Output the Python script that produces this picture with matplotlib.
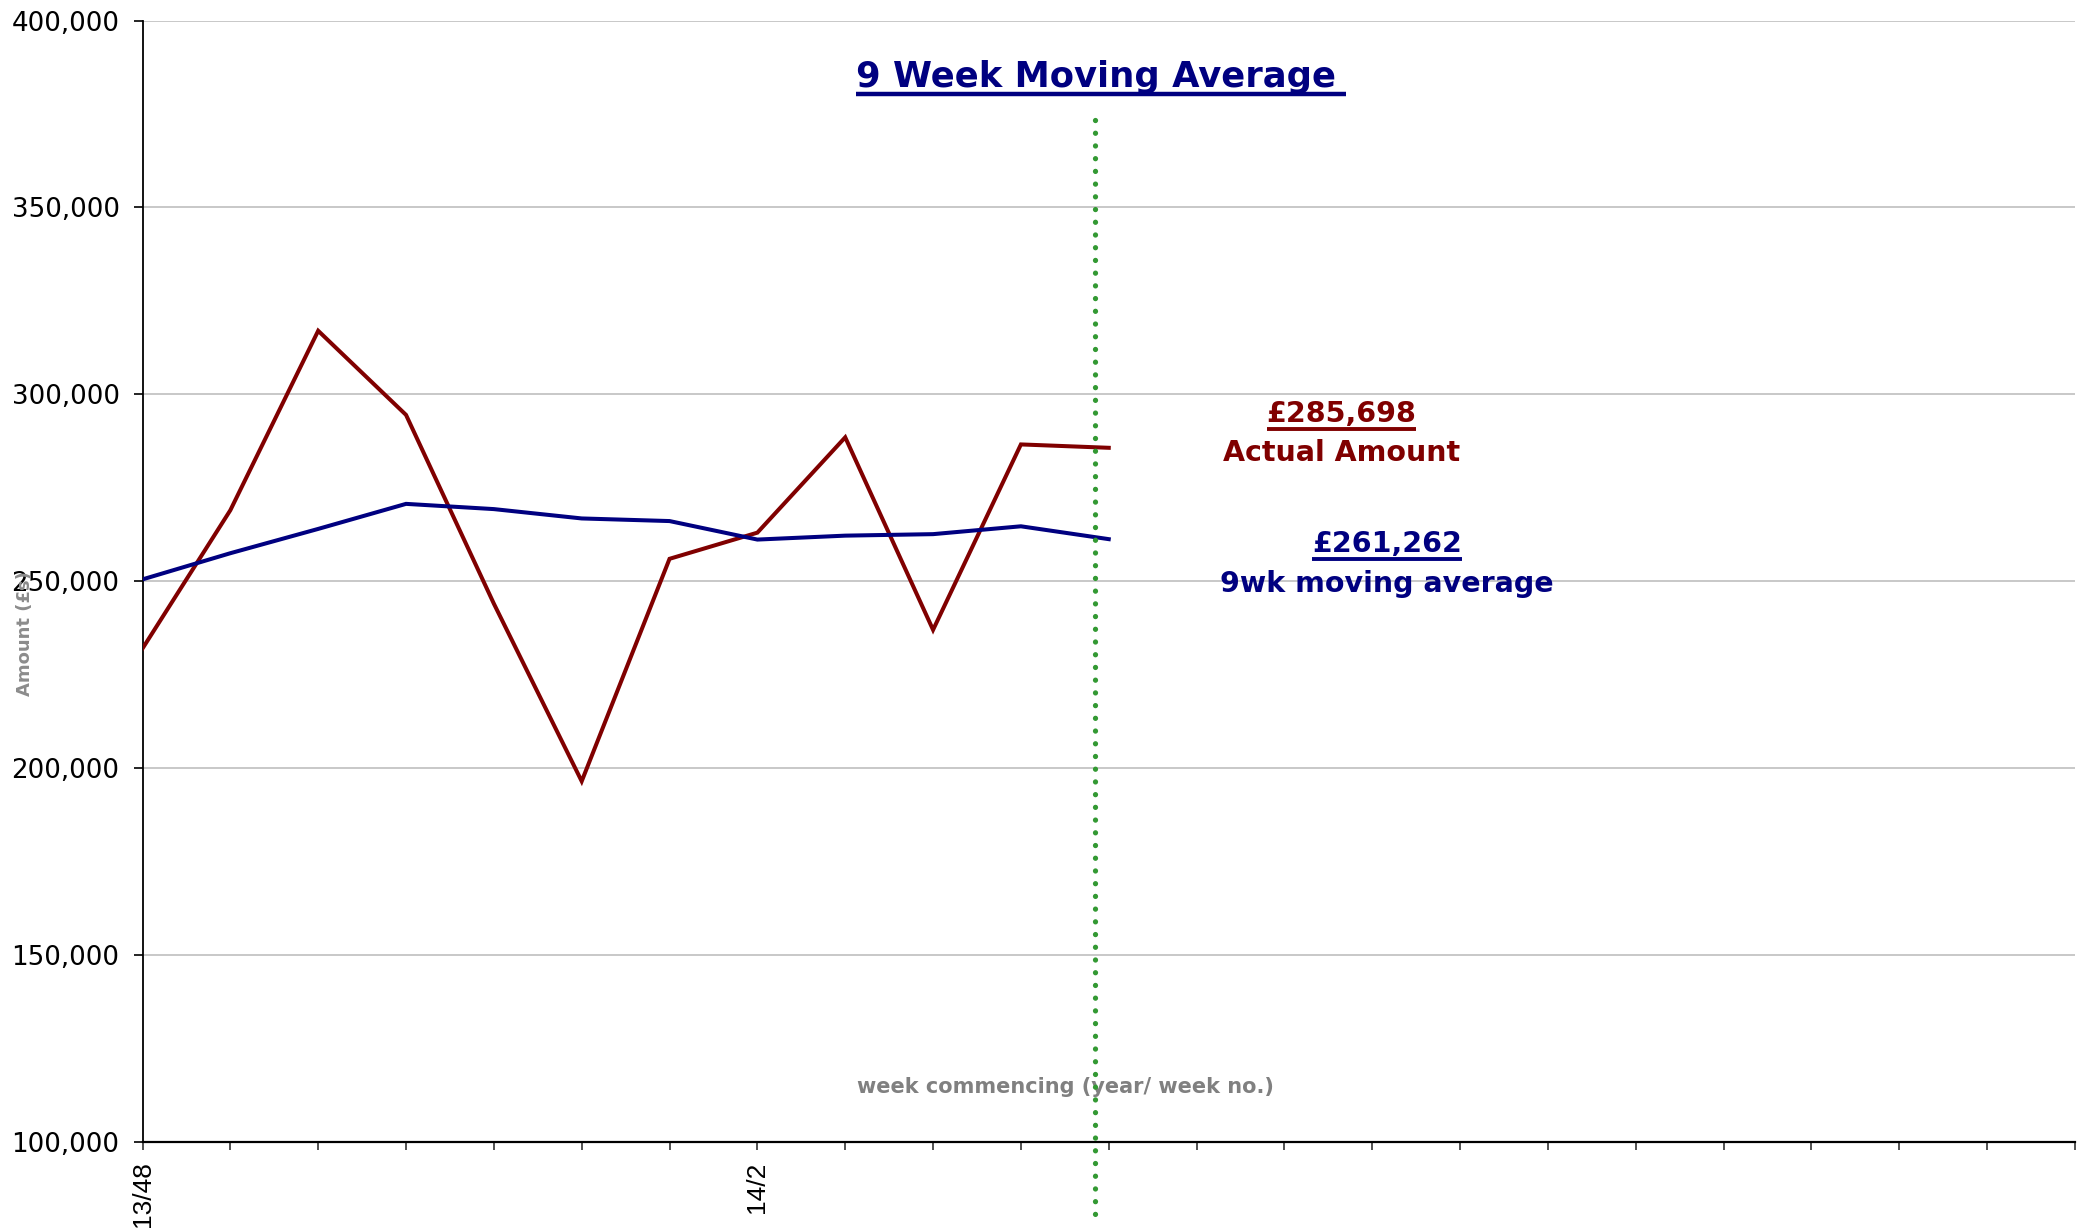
import matplotlib
matplotlib.use("Agg")
from matplotlib import pyplot as plt
from matplotlib.lines import Line2D
from matplotlib.ticker import FuncFormatter, FixedLocator

# weekly data (week commencing 13/48 onwards)
weeks = list(range(12))
actual = [232000, 269000, 317000, 294500, 244000, 196500,
          256000, 263000, 288500, 237000, 286600, 285698]
moving_avg = [250500, 257500, 264000, 270700, 269300, 266800,
              266100, 261150, 262200, 262600, 264700, 261262]

n_slots = 22                      # category slots on the axis
tick_pos = [0, 7]
tick_labels = ['13/48', '14/2']
marker_week = 10.84               # green "today" divider

red = '#800000'
navy = '#000080'
grey = '#8c8c8c'

fig = plt.figure(figsize=(20.78, 12.32), dpi=100)
ax = fig.add_axes([142.5 / 2078, 1 - 1142 / 1232, (2075 - 142.5) / 2078, (1142 - 20.5) / 1232])

ax.plot(weeks, actual, color=red, lw=2.9, solid_joinstyle='miter', zorder=3)
ax.plot(weeks, moving_avg, color=navy, lw=2.9, solid_joinstyle='miter', zorder=3)

ax.set_xlim(0, n_slots)
ax.set_ylim(100000, 400000)
ax.yaxis.set_major_locator(FixedLocator(range(100000, 400001, 50000)))
ax.yaxis.set_major_formatter(FuncFormatter(lambda v, p: f'{int(v):,}'))
ax.grid(axis='y', color='#c8c8c8', lw=1.4, zorder=0)
ax.set_axisbelow(True)

ax.set_xticks(range(n_slots + 1))
ax.set_xticklabels([tick_labels[tick_pos.index(i)] if i in tick_pos else '' for i in range(n_slots + 1)],
                   rotation=90, fontsize=19, family='Liberation Sans')
ax.tick_params(axis='x', length=6, width=1.2, pad=8, color='#333333')
ax.tick_params(axis='y', length=6.5, width=1.2, pad=10, labelsize=18.8)

for s in ['top', 'right']:
    ax.spines[s].set_visible(False)
ax.spines['left'].set_linewidth(1.3)
ax.spines['bottom'].set_linewidth(1.6)

# dotted divider, drawn top to bottom
ax.plot([marker_week, marker_week], [373400, 79400], color='#339933', lw=3.8,
        ls=(0, (0.01, 2.4)), dash_capstyle='round', clip_on=False, zorder=4)

# texts
title = ax.text(10.85, 382200, '9 Week Moving Average', color=navy, fontsize=25.5,
                fontweight='bold', ha='center', va='baseline')
v1 = ax.text(13.65, 292700, '£285,698', color=red, fontsize=20.5, fontweight='bold',
             ha='center', va='baseline')
ax.text(13.65, 282250, 'Actual Amount', color=red, fontsize=20.5, fontweight='bold',
        ha='center', va='baseline')
v2 = ax.text(14.17, 257900, '£261,262', color=navy, fontsize=20.5, fontweight='bold',
             ha='center', va='baseline')
ax.text(14.17, 247200, '9wk moving average', color=navy, fontsize=20.5, fontweight='bold',
        ha='center', va='baseline')

ax.text(10.51, 114700, 'week commencing (year/ week no.)', color='#808080', fontsize=15,
        fontweight='bold', ha='center', va='center')
fig.text(25 / 2078, 1 - 634 / 1232, 'Amount (£s)', color=grey, fontsize=13,
         fontweight='bold', rotation=90, ha='center', va='center')

# underline the headline figures
fig.canvas.draw()
renderer = fig.canvas.get_renderer()
for t, col, extra, lw in [(title, navy, 10, 3.2), (v1, red, 0, 2.8), (v2, navy, 0, 2.8)]:
    bb = t.get_window_extent(renderer)
    base = ax.transData.transform((0, t.get_position()[1]))[1]
    y = base - 7
    fig.add_artist(Line2D([bb.x0, bb.x1 + extra], [y, y], transform=None,
                          color=col, lw=lw, solid_capstyle='butt'))

fig.savefig('out.png', dpi=100)
